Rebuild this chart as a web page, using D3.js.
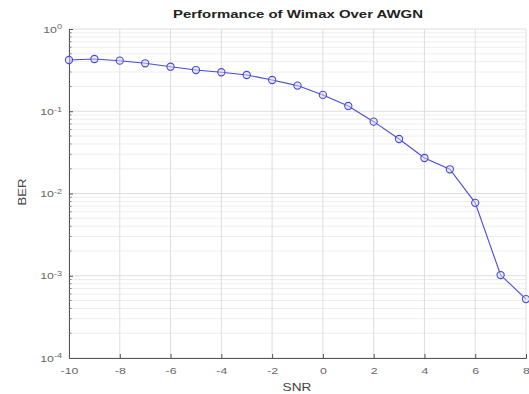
<!DOCTYPE html>
<html>
<head>
<meta charset="utf-8">
<script src="https://cdn.jsdelivr.net/npm/d3@7"></script>
<style>
html,body{margin:0;padding:0;background:#fff;}
svg{display:block;font-family:"Liberation Sans",Arial,sans-serif;}
</style>
</head>
<body>
<svg id="chart" width="529" height="394"></svg>
<script>
const snr = [-10,-9,-8,-7,-6,-5,-4,-3,-2,-1,0,1,2,3,4,5,6,7,8];
const ber = [0.42,0.432,0.412,0.383,0.348,0.317,0.298,0.276,0.240,0.205,0.158,0.116,0.0747,0.046,0.027,0.0197,0.0077,0.00102,0.00052];
const xTicks = [-10,-8,-6,-4,-2,0,2,4,6,8];
const yExps = [0,-1,-2,-3,-4];
const title = "Performance of Wimax Over AWGN";
const xLabel = "SNR";
const yLabel = "BER";

const svg = d3.select("#chart");
const m = {l:69, r:3, t:29, b:36};
const W = 529, H = 394;
const SX = 1.3; // horizontal text stretch seen in the reference
const x = d3.scaleLinear().domain([-10,8]).range([m.l, W-m.r]);
const y = d3.scaleLog().domain([1e-4,1]).range([H-m.b, m.t]);

const g = svg.append("g");
const minor = [];
for (let e=-4;e<0;e++) for (let k=2;k<=9;k++) minor.push(k*Math.pow(10,e));
g.selectAll(".ymin").data(minor).enter().append("line")
  .attr("x1",x(-10)).attr("x2",x(8)).attr("y1",d=>y(d)).attr("y2",d=>y(d))
  .attr("stroke","#eeeeee").attr("stroke-width",1);
g.selectAll(".ymaj").data(yExps).enter().append("line")
  .attr("x1",x(-10)).attr("x2",x(8)).attr("y1",d=>y(Math.pow(10,d))).attr("y2",d=>y(Math.pow(10,d)))
  .attr("stroke","#dedede").attr("stroke-width",1);
g.selectAll(".xmaj").data(xTicks).enter().append("line")
  .attr("x1",d=>x(d)).attr("x2",d=>x(d)).attr("y1",y(1)).attr("y2",y(1e-4))
  .attr("stroke","#dedede").attr("stroke-width",1);

// axes
const xAxis = d3.axisBottom(x).tickValues(xTicks).tickSize(-4).tickPadding(9).tickFormat(d=>d<0?"-"+Math.abs(d):d);
const gx = svg.append("g").attr("transform",`translate(0,${y(1e-4)})`).call(xAxis);
gx.select(".domain").attr("stroke","#555");
gx.selectAll(".tick line").attr("stroke","#555");
gx.selectAll("text").attr("fill","#666").style("font-size","9.5px").attr("transform",`scale(${SX},1)`);

const yAxis = d3.axisLeft(y).tickValues(yExps.map(e=>Math.pow(10,e))).tickSize(-4).tickFormat("");
const gy = svg.append("g").attr("transform",`translate(${x(-10)},0)`).call(yAxis);
gy.select(".domain").attr("stroke","#555");
gy.selectAll(".tick line").attr("stroke","#555");
gy.selectAll(".ymt").data(minor).enter().append("line").attr("class","ymt")
  .attr("x1",0).attr("x2",2.5).attr("y1",d=>y(d)).attr("y2",d=>y(d)).attr("stroke","#777");
gy.selectAll(".tick").each(function(d){
  const e = Math.round(Math.log10(d));
  const t = d3.select(this).append("text").attr("x",-7/SX).attr("dy","0.32em")
    .attr("transform",`scale(${SX},1)`)
    .attr("text-anchor","end").attr("fill","#666").style("font-size","9.5px");
  t.append("tspan").text("10");
  t.append("tspan").attr("dy","-0.45em").style("font-size","7px").text(e);
});

// line
const line = d3.line().x((d,i)=>x(snr[i])).y(d=>y(d));
svg.append("path").datum(ber).attr("d",line).attr("fill","none")
  .attr("stroke","#4a4ad8").attr("stroke-width",1.1);
svg.selectAll(".pt").data(ber).enter().append("circle")
  .attr("cx",(d,i)=>x(snr[i])).attr("cy",d=>y(d)).attr("r",3.6)
  .attr("fill","#dcdcf6").attr("fill-opacity",0.5).attr("stroke","#4a4ad8").attr("stroke-width",1.1);

// labels
svg.append("text").attr("transform",`translate(298,18) scale(${SX},1)`).attr("text-anchor","middle")
  .style("font-size","11.5px").style("font-weight","bold").attr("fill","#222").text(title);
svg.append("text").attr("transform",`translate(297,391) scale(${SX},1)`).attr("text-anchor","middle")
  .style("font-size","10.5px").attr("fill","#444").text(xLabel);
svg.append("text").attr("transform","translate(26,192) rotate(-90) scale(1.25,1)").attr("text-anchor","middle")
  .style("font-size","10.5px").attr("fill","#444").text(yLabel);
</script>
</body>
</html>
